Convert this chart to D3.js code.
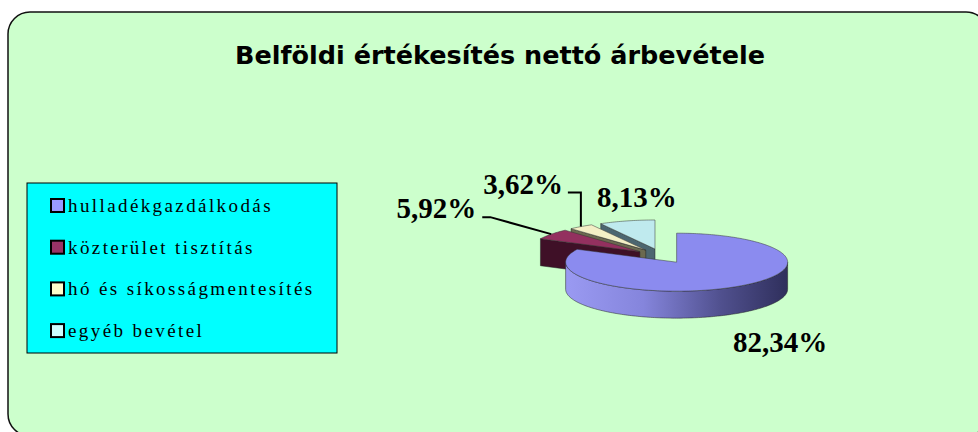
<!DOCTYPE html>
<html>
<head>
<meta charset="utf-8">
<script src="https://cdn.jsdelivr.net/npm/d3@7"></script>
<style>
  body { margin: 0; background: #fff; }
</style>
</head>
<body>
<div id="chart"></div>
<script>
(function(){

  // data
  var title = "Belföldi értékesítés nettó árbevétele";
  var categories = ["hulladékgazdálkodás", "közterület tisztítás", "hó és síkosságmentesítés", "egyéb bevétel"];
  var shares = [82.34, 5.92, 3.62, 8.13];

  // styles
  var legendColors = ["#9999ff", "#993366", "#ffffcc", "#ccffff"];
  var topColors = ["#8b8bef", "#93305f", "#f3efc6", "#bfeaee"];
  var sideColors = ["url(#sideGrad)", "#3f1027", "#6b6950", "#4c6670"];

  // where each label sits relative to the middle of its slice's rim
  var labelLayout = [
    { dx: -2, dy: 65, anchor: "start" },
    { dx: -75, dy: -16, anchor: "end", leader: [[-61, -17], [-69, -17]] },
    { dx: -18, dy: -33, anchor: "end", leader: [[0, -34], [-13, -34]] },
    { dx: -30, dy: -14, anchor: "start" }
  ];

  var serif = "'Liberation Serif', 'Times New Roman', serif";
  var width = 978, height = 432;

  var svg = d3.select("#chart").append("svg")
      .attr("width", width)
      .attr("height", height);

  var defs = svg.append("defs");

  // chart area
  svg.append("rect")
    .attr("x", 8).attr("y", 12)
    .attr("width", 980).attr("height", 424)
    .attr("rx", 22)
    .style("fill", "#ccffcc")
    .style("stroke", "#111")
    .style("stroke-width", 1.5);

  svg.append("text")
    .attr("x", 500)
    .attr("y", 64)
    .attr("text-anchor", "middle")
    .attr("textLength", 530)
    .attr("lengthAdjust", "spacingAndGlyphs")
    .style("font-family", "'Comic Sans MS', 'DejaVu Sans', sans-serif")
    .style("font-weight", "bold")
    .style("font-size", "25px")
    .style("fill", "#000")
    .text(title);

  // legend
  var legend = svg.append("g")
      .attr("transform", "translate(27,183)");

  legend.append("rect")
    .attr("width", 310).attr("height", 170)
    .style("fill", "#00ffff")
    .style("stroke", "#000")
    .style("stroke-width", 1);

  var item = legend.selectAll(".item")
      .data(categories)
      .enter().append("g")
      .attr("class", "item")
      .attr("transform", function(d, i){ return "translate(0," + (29 + i * 41.7) + ")" });

  item.append("rect")
    .attr("x", 24).attr("y", -13)
    .attr("width", 13).attr("height", 13)
    .style("fill", function(d, i){ return legendColors[i] })
    .style("stroke", "#000")
    .style("stroke-width", 2);

  item.append("text")
    .attr("x", 41)
    .attr("y", 0)
    .style("font-family", serif)
    .style("font-size", "19px")
    .style("letter-spacing", "2.4px")
    .style("fill", "#000")
    .text(function(d){ return d });

  // 3d pie
  var cx = 662, cy = 256, rx = 111, ry = 29, depth = 27, explode = 0.25;

  var pie = d3.pie().sort(null).value(function(d){ return d });
  var arcs = pie(shares);

  function pt(c, a, dy){
    return [c[0] + rx * Math.sin(a), c[1] - ry * Math.cos(a) + (dy || 0)];
  }

  function arcPoints(c, a0, a1, dy){
    var n = Math.max(2, Math.ceil(Math.abs(a1 - a0) / 0.02));
    return d3.range(n + 1).map(function(k){ return pt(c, a0 + (a1 - a0) * k / n, dy) });
  }

  arcs.forEach(function(d, i){
    d.i = i;
    d.mid = (d.startAngle + d.endAngle) / 2;
    d.c = [cx + explode * rx * Math.sin(d.mid), cy - explode * ry * Math.cos(d.mid)];
    d.rim = pt(d.c, d.mid);
  });

  var purple = arcs[0];
  var grad = defs.append("linearGradient")
      .attr("id", "sideGrad")
      .attr("gradientUnits", "userSpaceOnUse")
      .attr("x1", purple.c[0] - rx).attr("y1", 0)
      .attr("x2", purple.c[0] + rx).attr("y2", 0);
  grad.append("stop").attr("offset", 0).attr("stop-color", "#9a9af2");
  grad.append("stop").attr("offset", 0.35).attr("stop-color", "#8585dc");
  grad.append("stop").attr("offset", 0.7).attr("stop-color", "#50508e");
  grad.append("stop").attr("offset", 1).attr("stop-color", "#2f2f5c");

  var line = d3.line();
  var pieG = svg.append("g");

  // back slices first
  arcs.slice().sort(function(a, b){ return a.c[1] - b.c[1] }).forEach(function(d){
    var g = pieG.append("g");

    function side(pts){
      g.append("path")
        .attr("d", line(pts) + "Z")
        .style("fill", sideColors[d.i])
        .style("stroke", "#222")
        .style("stroke-width", 0.5);
    }

    if (Math.sin(d.startAngle) < -1e-6) {
      var e = pt(d.c, d.startAngle);
      side([d.c, e, [e[0], e[1] + depth], [d.c[0], d.c[1] + depth]]);
    }
    if (Math.sin(d.endAngle) > 1e-6) {
      var e2 = pt(d.c, d.endAngle);
      side([d.c, e2, [e2[0], e2[1] + depth], [d.c[0], d.c[1] + depth]]);
    }

    var a0 = Math.max(d.startAngle, Math.PI / 2),
        a1 = Math.min(d.endAngle, 3 * Math.PI / 2);
    if (a1 > a0) {
      side(arcPoints(d.c, a0, a1, 0).concat(arcPoints(d.c, a1, a0, depth)));
    }

    g.append("path")
      .attr("d", line([d.c].concat(arcPoints(d.c, d.startAngle, d.endAngle, 0))) + "Z")
      .style("fill", topColors[d.i])
      .style("stroke", "#333")
      .style("stroke-width", 0.5);
  });

  // labels
  var fmt = d3.formatLocale({ decimal: ",", thousands: " ", grouping: [3], currency: ["", ""] }).format(".2f");

  arcs.forEach(function(d){
    var lay = labelLayout[d.i];
    if (lay.leader) {
      var pts = [d.rim].concat(lay.leader.map(function(o){ return [d.rim[0] + o[0], d.rim[1] + o[1]] }));
      svg.append("path")
        .attr("d", line(pts))
        .style("fill", "none")
        .style("stroke", "#000")
        .style("stroke-width", 2);
    }
    svg.append("text")
      .attr("x", d.rim[0] + lay.dx)
      .attr("y", d.rim[1] + lay.dy)
      .attr("text-anchor", lay.anchor)
      .style("font-family", serif)
      .style("font-weight", "bold")
      .style("font-size", "29px")
      .style("fill", "#000")
      .text(fmt(d.data) + "%");
  });

})()
</script>
</body>
</html>
